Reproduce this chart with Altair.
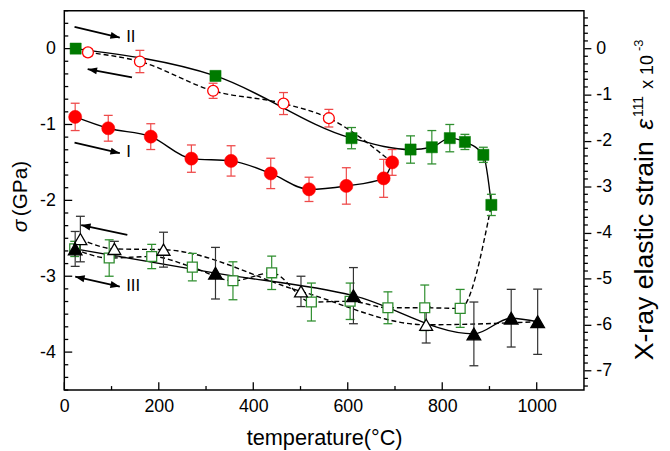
import math
import altair as alt
import pandas as pd

FONT = "Liberation Sans"
W, H = 526, 384
XMAX = 1100
YDOM = [-4.5, 0.5]
SDOM = [-7.42, 0.824]

# ---- data ----
# I : heating, red filled circles
I_T = [23, 93, 183, 269, 353, 437, 518, 597, 676, 694]
I_S = [-0.90, -1.05, -1.16, -1.45, -1.48, -1.645, -1.855, -1.81, -1.71, -1.50]
I_E = [0.18, 0.17, 0.17, 0.18, 0.20, 0.20, 0.16, 0.24, 0.25, 0.17]

# II : heating, green filled squares
IIH_T = [24, 320, 608, 733, 778, 816, 848, 887, 904]
IIH_S = [0.0, -0.36, -1.18, -1.33, -1.30, -1.18, -1.23, -1.40, -2.06]
IIH_E = [0.03, 0.06, 0.14, 0.18, 0.22, 0.18, 0.10, 0.10, 0.14]

# II : cooling, red open circles
IIC_T = [50, 160, 315, 464, 560]
IIC_S = [-0.05, -0.17, -0.556, -0.724, -0.917]
IIC_E = [0.05, 0.147, 0.10, 0.145, 0.116]

# cooling after II, green open squares
GC_T = [22, 95, 185, 271, 357, 439, 523, 605, 685, 763, 838]
GC_S = [-2.64, -2.76, -2.74, -2.88, -3.06, -2.955, -3.34, -3.33, -3.416, -3.416, -3.424]
GC_E = [0.10, 0.24, 0.16, 0.18, 0.25, 0.22, 0.25, 0.24, 0.21, 0.30, 0.25]

# III : heating, black filled triangles
IIIH_T = [23, 320, 612, 867, 946, 1002]
IIIH_S = [-2.64, -2.96, -3.256, -3.76, -3.553, -3.60]
IIIH_E = [0.23, 0.34, 0.37, 0.42, 0.38, 0.43]

# III : cooling, black open triangles
IIIC_T = [34, 106, 210, 501, 766]
IIIC_S = [-2.51, -2.64, -2.65, -3.20, -3.64]
IIIC_E = [0.30, 0.10, 0.23, 0.20, 0.24]

# arrows (data units): tail -> head
AR_X0 = [21.6, 143.3, 21.6, 133.4, 23.1]
AR_Y0 = [0.288, -0.379, -1.24, -2.455, -3.006]
AR_X1 = [117.5, 49.5, 117.5, 35.7, 117.5]
AR_Y1 = [0.146, -0.271, -1.379, -2.326, -3.136]
AR_BOTH = [False, False, False, False, True]

LB_T = [131, 131, 131]
LB_S = [0.155, -1.36, -3.13]
LB_TXT = ["II", "I", "III"]

XT_MAJOR = [0, 200, 400, 600, 800, 1000]
XT_MINOR = [100, 300, 500, 700, 900]
Y_MAJOR = [0, -1, -2, -3, -4]
S_MAJOR = [0, -1, -2, -3, -4, -5, -6, -7]

# ---- scales ----
xsc = alt.Scale(domain=[0, XMAX], nice=False, zero=False)
ysc = alt.Scale(domain=YDOM, nice=False, zero=False)
ssc = alt.Scale(domain=SDOM, nice=False, zero=False)


def X(f="T"):
    return alt.X(f + ":Q", scale=xsc, axis=None)


def Y(f="S"):
    return alt.Y(f + ":Q", scale=ysc, axis=None)


def errbars(T, S, E, ecolor):
    df = pd.DataFrame({"T": T, "lo": [s - e for s, e in zip(S, E)],
                       "hi": [s + e for s, e in zip(S, E)]})
    b = alt.Chart(df)
    return [
        b.mark_rule(color=ecolor, strokeWidth=1.2).encode(x=X(), y=Y("lo"), y2="hi:Q"),
        b.mark_tick(color=ecolor, orient="horizontal", size=9, thickness=1.3, opacity=1).encode(x=X(), y=Y("lo")),
        b.mark_tick(color=ecolor, orient="horizontal", size=9, thickness=1.3, opacity=1).encode(x=X(), y=Y("hi")),
    ]


def points(T, S, shape, size, fill, stroke, sw=1.3):
    df = pd.DataFrame({"T": T, "S": S})
    return alt.Chart(df).mark_point(shape=shape, size=size, filled=True, fill=fill,
                                    stroke=stroke, strokeWidth=sw, opacity=1).encode(x=X(), y=Y())


def curve(T, S, dash=None):
    df = pd.DataFrame({"T": T, "S": S})
    kw = dict(color="black", strokeWidth=1.4, interpolate="monotone")
    if dash:
        kw["strokeDash"] = dash
    return alt.Chart(df).mark_line(**kw).encode(x=X(), y=Y())


RED, RED_E = "#ff0000", "#ee4a4a"
GRN, GRN_E = "#007a00", "#2f8f2f"
OGRN = "#2e8b2e"
BLK, BLK_E = "#000000", "#333333"
DASH = [5, 3]

lines = [
    curve(I_T, I_S),
    curve(IIH_T, IIH_S),
    curve(IIC_T + [I_T[-1]], IIC_S + [I_S[-1]], DASH),
    curve(GC_T + [IIH_T[-1]], GC_S + [IIH_S[-1]], DASH),
    curve(IIIH_T, IIIH_S),
    curve(IIIC_T + [IIIH_T[-1]], IIIC_S + [IIIH_S[-1]], DASH),
]

bars = (errbars(I_T, I_S, I_E, RED_E) + errbars(IIH_T, IIH_S, IIH_E, GRN_E)
        + errbars(IIC_T, IIC_S, IIC_E, RED_E) + errbars(GC_T, GC_S, GC_E, GRN_E)
        + errbars(IIIH_T, IIIH_S, IIIH_E, BLK_E) + errbars(IIIC_T, IIIC_S, IIIC_E, BLK_E))

marks = [
    points(GC_T, GC_S, "square", 100, "white", OGRN),
    points(IIIC_T, IIIC_S, "triangle-up", 170, "white", BLK),
    points(IIIH_T, IIIH_S, "triangle-up", 190, BLK, BLK),
    points(IIC_T, IIC_S, "circle", 121, "white", RED),
    points(I_T, I_S, "circle", 177, RED, RED, 0.5),
    points(IIH_T, IIH_S, "square", 128, GRN, GRN, 0.5),
]

# arrows
ax = W / XMAX
ay = H / (YDOM[1] - YDOM[0])
shaft_df = pd.DataFrame({"x0": AR_X0, "y0": AR_Y0, "x1": AR_X1, "y1": AR_Y1})
shafts = alt.Chart(shaft_df).mark_rule(color="black", strokeWidth=1.8).encode(
    x=X("x0"), x2="x1:Q", y=Y("y0"), y2="y1:Q")
hx, hy, ha = [], [], []
for x0, y0, x1, y1, both in zip(AR_X0, AR_Y0, AR_X1, AR_Y1, AR_BOTH):
    ang = math.degrees(math.atan2(-(y1 - y0) * ay, (x1 - x0) * ax))
    hx.append(x1); hy.append(y1); ha.append(ang % 360)
    if both:
        hx.append(x0); hy.append(y0); ha.append((ang + 180) % 360)
head_df = pd.DataFrame({"T": hx, "S": hy, "a": ha})
heads = alt.Chart(head_df).mark_point(shape="M0,0L-2,-0.75L-2,0.75Z", size=90, filled=True,
                                      color="black", opacity=1).encode(
    x=X(), y=Y(), angle=alt.Angle("a:Q", scale=None))
lab_df = pd.DataFrame({"T": LB_T, "S": LB_S, "txt": LB_TXT})
labels = alt.Chart(lab_df).mark_text(font=FONT, fontSize=17, align="left", baseline="middle",
                                     color="black").encode(x=X(), y=Y(), text="txt:N")

# ticks and axes
minus = "datum.value == 0 ? '0' : '-' + format(abs(datum.value), 'd')"
xt_major = alt.Chart(pd.DataFrame({"v": XT_MAJOR})).mark_rule(color="black", strokeWidth=1.3).encode(
    x=alt.X("v:Q", scale=xsc, axis=alt.Axis(
        orient="bottom", values=XT_MAJOR, ticks=False, domain=False, grid=False,
        labelFlush=False, labelOverlap=False,
        labelFont=FONT, labelFontSize=18, labelColor="black", labelPadding=8, format="d",
        title="temperature(°C)", titleFont=FONT, titleFontSize=22, titleFontWeight="normal",
        titleColor="black", titlePadding=12)),
    y=alt.value(H), y2=alt.value(H - 8))
xt_minor = alt.Chart(pd.DataFrame({"v": XT_MINOR})).mark_rule(color="black", strokeWidth=1.3).encode(
    x=alt.X("v:Q", scale=xsc, axis=None), y=alt.value(H), y2=alt.value(H - 4))

yk = list(range(-27, 4))
yt_major = alt.Chart(pd.DataFrame({"v": [k / 6 for k in yk if k % 6 == 0]})).mark_rule(
    color="black", strokeWidth=1.3).encode(
    y=alt.Y("v:Q", scale=ysc, axis=alt.Axis(
        orient="left", values=Y_MAJOR, ticks=False, domain=False, grid=False,
        labelFlush=False, labelOverlap=False,
        labelFont=FONT, labelFontSize=18, labelColor="black", labelPadding=9,
        labelExpr=minus, title=None)),
    x=alt.value(0), x2=alt.value(8))
yt_minor = alt.Chart(pd.DataFrame({"v": [k / 6 for k in yk if k % 6 != 0]})).mark_rule(
    color="black", strokeWidth=1.3).encode(
    y=alt.Y("v:Q", scale=ysc, axis=None), x=alt.value(0), x2=alt.value(4))

sk = list(range(-44, 5))
st_minor = alt.Chart(pd.DataFrame({"v": [k / 6 for k in sk if k % 6 != 0]})).mark_rule(
    color="black", strokeWidth=1.3).encode(
    y=alt.Y("v:Q", scale=ssc, axis=alt.Axis(
        orient="right", values=S_MAJOR, tickSize=7, tickColor="black", tickWidth=1.3,
        labelFlush=False, labelOverlap=False,
        domain=False, grid=False, labelFont=FONT, labelFontSize=18, labelColor="black",
        labelPadding=5, labelExpr=minus, title=None)),
    x=alt.value(W), x2=alt.value(W + 4))


def txt(s, x, y, size, style="normal"):
    return alt.Chart(pd.DataFrame({"k": [0]})).mark_text(
        text=s, font=FONT, fontSize=size, fontStyle=style, angle=270, align="center",
        baseline="alphabetic", color="black").encode(x=alt.value(x), y=alt.value(y))


titles = [
    txt("σ", -38, 218, 21, "italic"),
    txt("(GPa)", -38, 180, 21),
    txt("X-ray elastic strain", 596, 243, 27),
    txt("ε", 596, 115, 25, "italic"),
    txt("111", 586, 97, 14),
    txt("x 10", 596, 62, 18),
    txt("-3", 586, 35, 13),
]

chart = alt.layer(yt_major, st_minor, xt_major, xt_minor, yt_minor, *lines, *bars, *marks,
                  shafts, heads, labels, *titles).resolve_scale(
    x="independent", y="independent").properties(
    width=W, height=H,
    autosize=alt.AutoSizeParams(type="none"),
    padding={"left": 57, "top": 0, "right": 79, "bottom": 59},
    background="white",
).configure_view(stroke="black", strokeWidth=1.5)

chart.save("out.html", embed_options={"renderer": "svg", "actions": False})
